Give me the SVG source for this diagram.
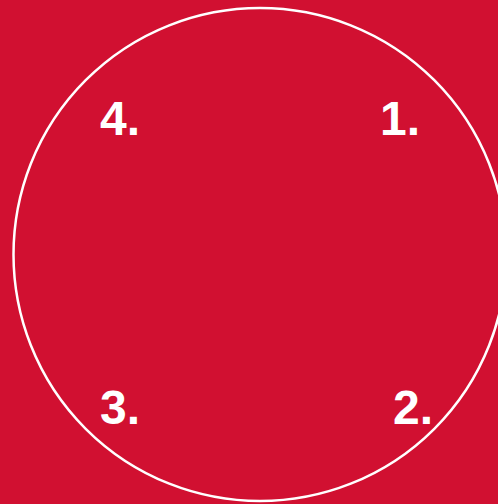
<svg xmlns="http://www.w3.org/2000/svg" width="498" height="504" viewBox="0 0 498 504">
<style>
.lbl{font-family:"Liberation Sans",Arial,sans-serif;font-weight:bold;font-size:48px;fill:#fff}
</style>
<rect width="498" height="504" fill="#D11031"/>
<g id="circle"><circle cx="260" cy="254.5" r="246.5" fill="none" stroke="#fff" stroke-width="2.5"/></g>
<g id="n1"><text class="lbl" x="380" y="135">1.</text></g>
<g id="n2"><text class="lbl" x="393" y="424">2.</text></g>
<g id="n3"><text class="lbl" x="100" y="424">3.</text></g>
<g id="n4"><text class="lbl" x="100" y="135">4.</text></g>
</svg>
